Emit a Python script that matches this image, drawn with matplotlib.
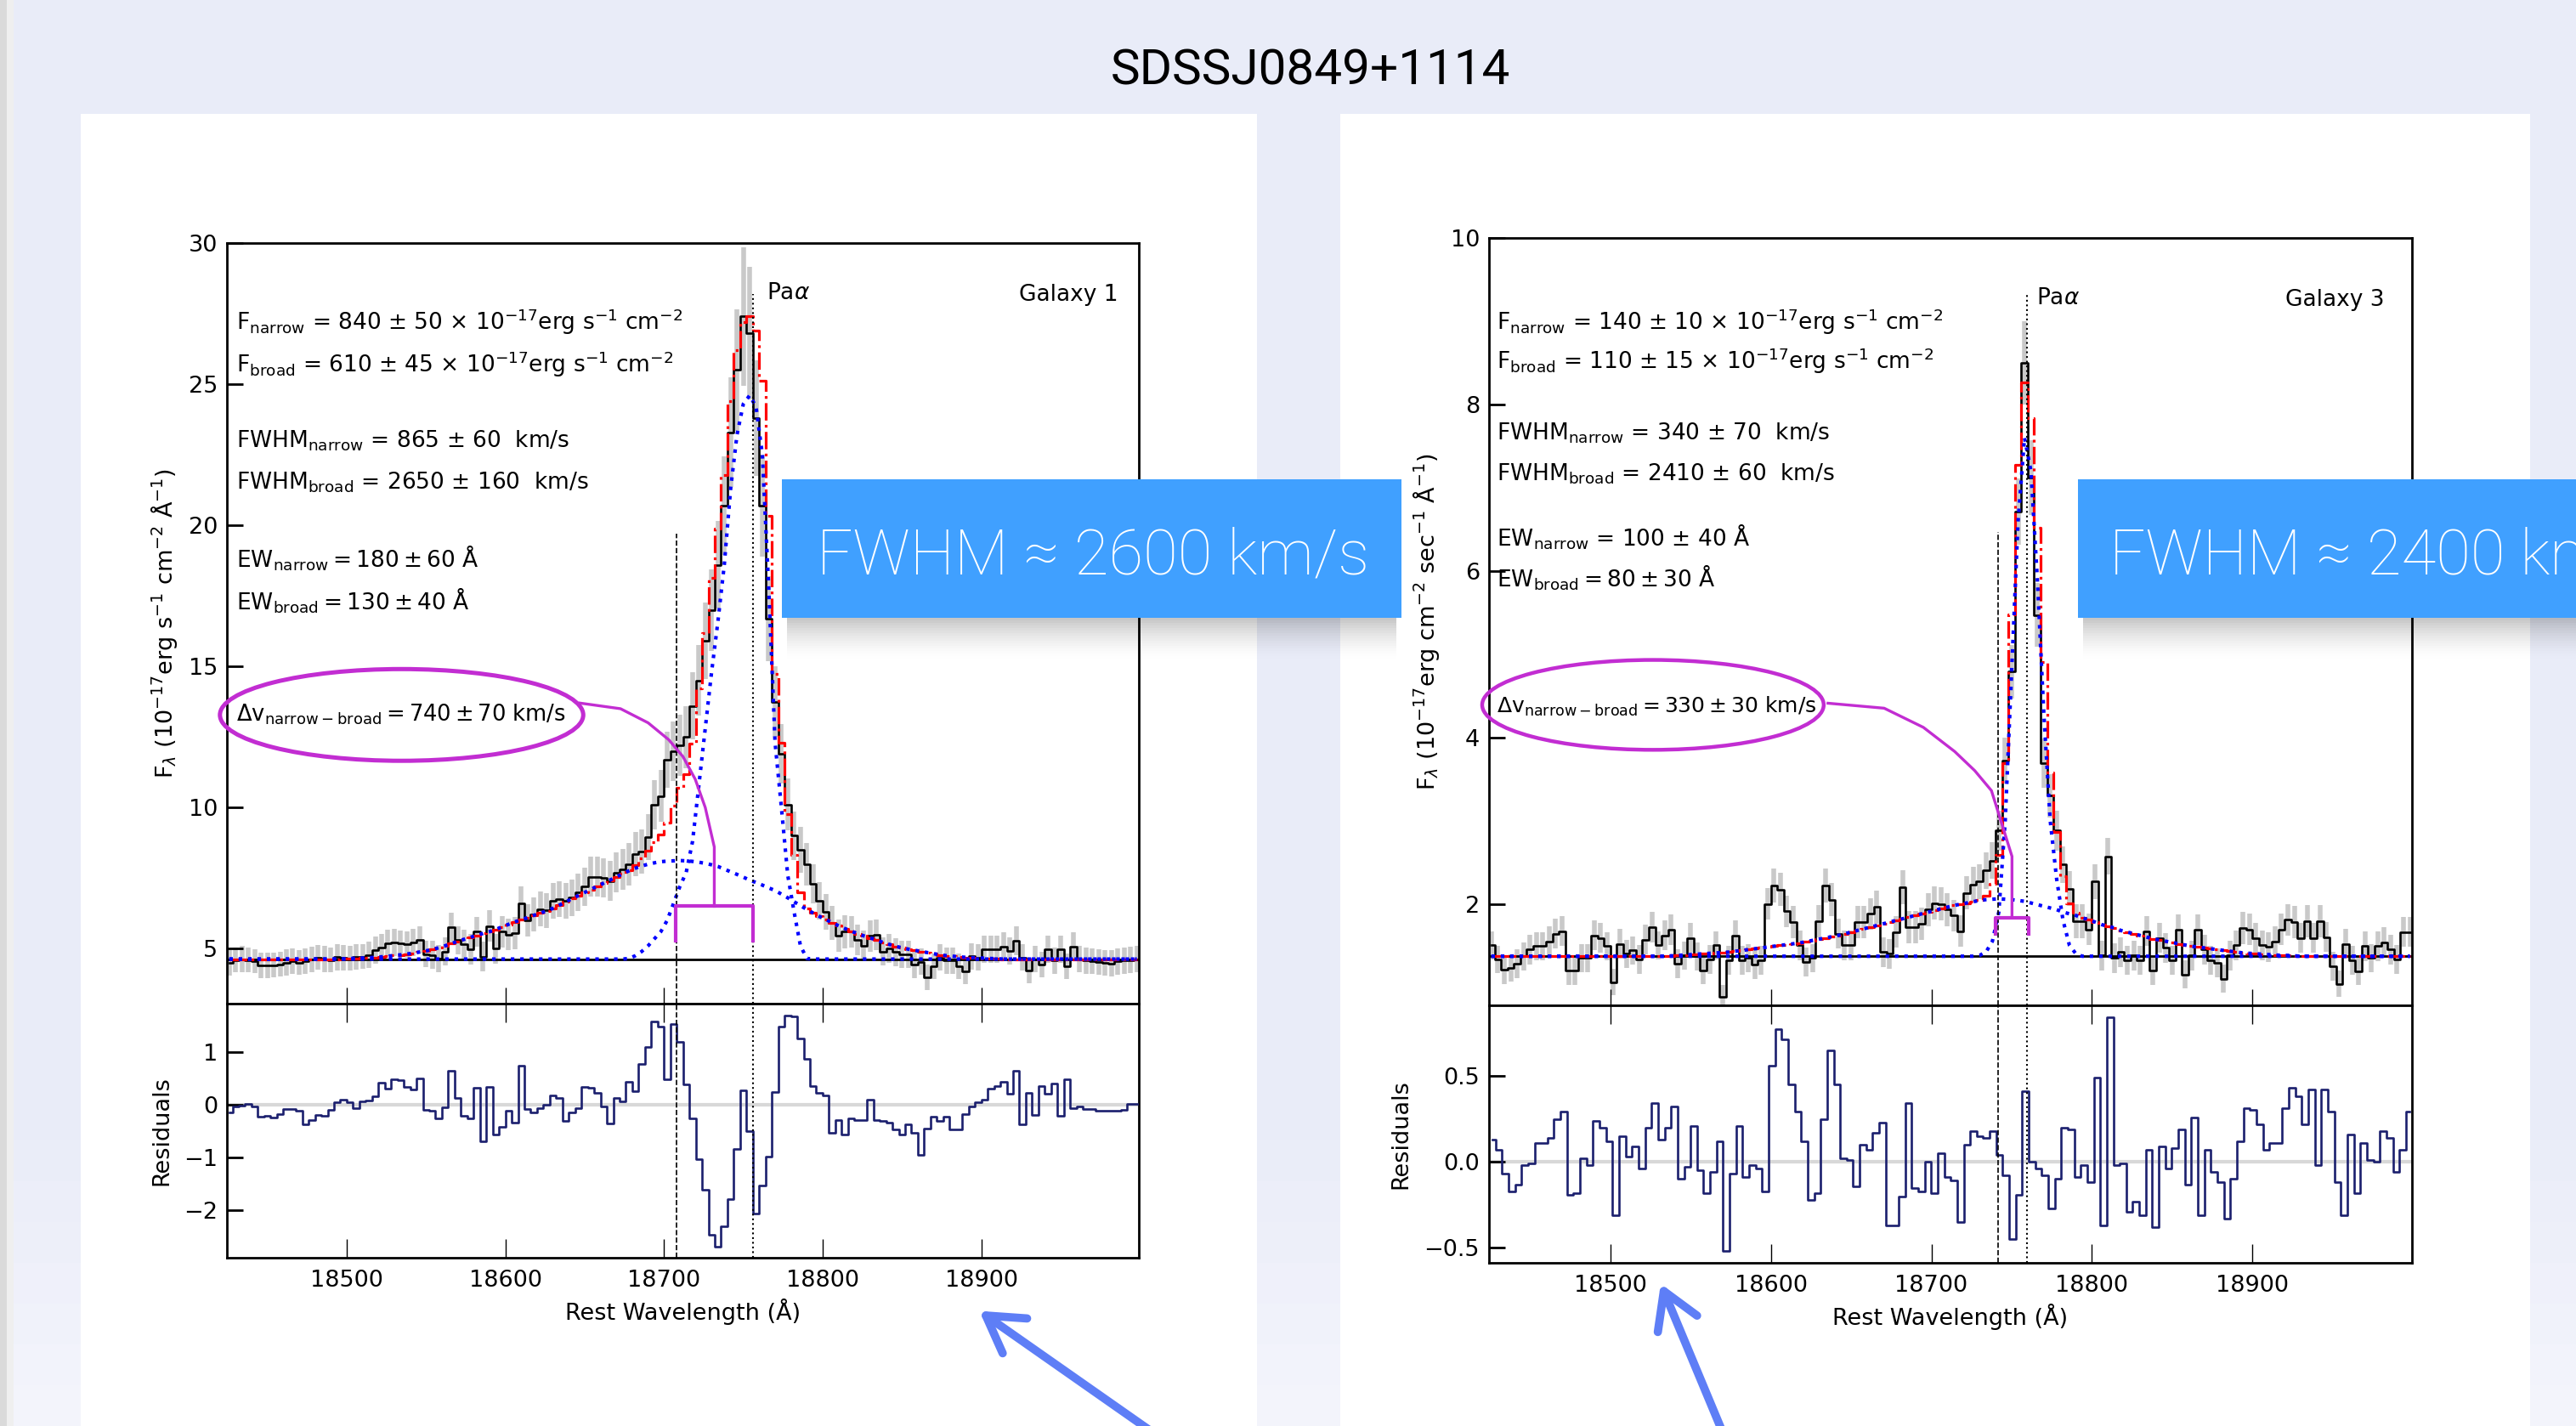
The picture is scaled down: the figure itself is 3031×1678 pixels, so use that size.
import numpy as np
import matplotlib
matplotlib.use("Agg")
import matplotlib.pyplot as plt
from matplotlib.patches import Ellipse, Rectangle, FancyArrowPatch

plt.rcParams.update({
    "font.family": "DejaVu Sans",
    "mathtext.fontset": "dejavusans",
    "axes.unicode_minus": True,
})

# ---------------- data ----------------
# wavelength grid (bin centres, Angstrom)
lam_start = 18426.0
lam_step = 4.0
n_bins = 144
# the Galaxy 3 residual trace is binned slightly differently
res3_start = 18426.5
res3_step = 4.05

# Galaxy 1
flux_g1 = [4.5, 4.6, 4.63, 4.6, 4.55, 4.4, 4.4, 4.42, 4.45, 4.5,
           4.55, 4.5, 4.55, 4.62, 4.68, 4.63, 4.6, 4.7, 4.68, 4.65,
           4.7, 4.72, 4.78, 4.95, 5.05, 5.2, 5.22, 5.18, 5.15, 5.22,
           5.3, 4.8, 4.78, 4.65, 4.9, 5.75, 5.3, 5.15, 4.98, 5.6,
           4.72, 5.8, 5.0, 5.6, 5.5, 5.55, 6.6, 6.0, 6.2, 6.4,
           6.35, 6.7, 6.75, 6.7, 6.8, 7.0, 7.2, 7.55, 7.55, 7.5,
           7.4, 7.7, 7.8, 8.0, 8.35, 8.45, 8.95, 10.1, 10.4, 11.7,
           12.0, 12.2, 12.5, 13.6, 14.5, 15.9, 17.0, 18.6, 20.7, 23.3,
           25.5, 27.4, 26.8, 23.8, 20.7, 16.7, 13.75, 11.9, 10.1, 9.0,
           8.5, 8.0, 7.3, 6.7, 6.3, 5.9, 5.45, 5.6, 5.6, 5.3,
           5.1, 5.45, 5.5, 4.9, 5.0, 4.88, 4.8, 4.8, 4.43, 4.53,
           3.98, 4.38, 4.68, 4.58, 4.58, 4.38, 4.18, 4.73, 4.68, 4.98,
           4.98, 4.98, 5.08, 4.93, 5.28, 4.68, 4.23, 4.63, 4.43, 4.98,
           4.58, 4.98, 4.38, 5.08, 4.63, 4.58, 4.55, 4.53, 4.5, 4.48,
           4.55, 4.58, 4.6, 4.63]
err_g1 = [0.45, 0.44, 0.46, 0.45, 0.43, 0.45, 0.46, 0.44, 0.45, 0.47,
          0.45, 0.44, 0.46, 0.45, 0.44, 0.46, 0.45, 0.47, 0.45, 0.44,
          0.46, 0.45, 0.47, 0.48, 0.46, 0.47, 0.48, 0.46, 0.47, 0.49,
          0.48, 0.47, 0.49, 0.48, 0.50, 0.52, 0.50, 0.51, 0.53, 0.52,
          0.54, 0.55, 0.53, 0.56, 0.55, 0.57, 0.60, 0.58, 0.60, 0.62,
          0.61, 0.63, 0.64, 0.63, 0.65, 0.66, 0.68, 0.70, 0.70, 0.69,
          0.70, 0.72, 0.73, 0.75, 0.77, 0.78, 0.82, 0.88, 0.92, 1.00,
          1.05, 1.08, 1.10, 1.18, 1.25, 1.35, 1.45, 1.55, 1.75, 1.95,
          2.15, 2.45, 2.35, 2.05, 1.80, 1.50, 1.25, 1.05, 0.92, 0.85,
          0.80, 0.75, 0.70, 0.66, 0.63, 0.60, 0.57, 0.58, 0.56, 0.54,
          0.53, 0.55, 0.54, 0.50, 0.51, 0.50, 0.49, 0.49, 0.47, 0.47,
          0.45, 0.46, 0.47, 0.47, 0.47, 0.46, 0.45, 0.47, 0.47, 0.48,
          0.48, 0.48, 0.49, 0.48, 0.50, 0.47, 0.45, 0.47, 0.46, 0.48,
          0.47, 0.48, 0.46, 0.49, 0.47, 0.47, 0.46, 0.46, 0.46, 0.46,
          0.47, 0.47, 0.47, 0.47]
cont_g1 = 4.63
narrow_g1 = [4.63] * 63 + [4.65, 4.75, 4.9, 5.1, 5.35, 5.6, 6.0, 6.6, 7.2, 7.7,
                           8.8, 10.8, 12.8, 14.8, 16.6, 18.6, 21.3, 23.2, 24.3, 24.6,
                           24.2, 22.5, 17.8, 12.3, 10.0, 7.6, 6.3, 5.1, 4.65] + [4.63] * 52
broad_g1 = [4.63] * 18 + [4.64, 4.65, 4.66, 4.67, 4.68, 4.69, 4.71, 4.73, 4.76, 4.78,
                          4.81, 4.84, 4.88, 4.92, 4.97, 5.03, 5.10, 5.18, 5.26, 5.33,
                          5.40, 5.47, 5.54, 5.60, 5.68, 5.77, 5.86, 5.95, 6.02, 6.10,
                          6.18, 6.26, 6.33, 6.43, 6.54, 6.65, 6.77, 6.88, 6.99, 7.10,
                          7.21, 7.32, 7.43, 7.54, 7.65, 7.76, 7.85, 7.93, 7.99, 8.04,
                          8.08, 8.10, 8.11, 8.12, 8.11, 8.09, 8.06, 8.02, 7.97, 7.91,
                          7.82, 7.72, 7.63, 7.53, 7.43, 7.34, 7.25, 7.15, 7.06, 6.93,
                          6.80, 6.66, 6.52, 6.39, 6.26, 6.14, 6.03, 5.92, 5.81, 5.71,
                          5.62, 5.53, 5.45, 5.38, 5.30, 5.22, 5.15, 5.08, 5.03, 4.98,
                          4.94, 4.90, 4.86, 4.82, 4.78, 4.75, 4.73, 4.71, 4.69, 4.68,
                          4.67, 4.66, 4.65, 4.64] + [4.63] * 22
resid_g1 = [-0.15, -0.04, -0.02, 0.02, -0.04, -0.23, -0.22, -0.25, -0.18, -0.09,
            -0.08, -0.11, -0.37, -0.30, -0.19, -0.22, -0.10, 0.04, 0.09, 0.04,
            -0.07, 0.06, 0.08, 0.16, 0.42, 0.31, 0.48, 0.47, 0.33, 0.29,
            0.50, -0.10, -0.12, -0.26, -0.05, 0.65, 0.12, -0.21, -0.26, 0.32,
            -0.69, 0.33, -0.57, -0.42, -0.12, -0.34, 0.74, -0.08, -0.14, -0.07,
            0.0, 0.17, 0.13, -0.31, -0.15, -0.06, 0.33, 0.32, 0.22, -0.03,
            -0.35, 0.12, 0.06, 0.44, 0.25, 0.77, 1.09, 1.58, 1.49, 0.49,
            1.53, 1.19, 0.38, -0.26, -1.04, -1.62, -2.48, -2.70, -2.31, -1.80,
            -0.84, 0.27, -0.51, -2.07, -1.53, -0.99, 0.24, 1.48, 1.70, 1.67,
            1.25, 0.87, 0.36, 0.23, 0.17, -0.53, -0.29, -0.56, -0.26, -0.29,
            -0.29, 0.09, -0.30, -0.31, -0.34, -0.47, -0.56, -0.37, -0.53, -0.96,
            -0.45, -0.23, -0.31, -0.23, -0.47, -0.47, -0.18, -0.04, 0.04, 0.09,
            0.31, 0.36, 0.44, 0.20, 0.64, -0.38, 0.23, -0.19, 0.35, 0.20,
            0.40, -0.21, 0.49, -0.07, -0.04, -0.08, -0.09, -0.11, -0.12, -0.12,
            -0.11, -0.10, 0.01, 0.01]

# Galaxy 3
flux_g3 = [1.50, 1.33, 1.21, 1.23, 1.28, 1.37, 1.45, 1.49, 1.49, 1.55,
           1.64, 1.67, 1.20, 1.20, 1.35, 1.35, 1.62, 1.59, 1.49, 1.06,
           1.52, 1.40, 1.44, 1.33, 1.57, 1.72, 1.50, 1.62, 1.69, 1.28,
           1.38, 1.59, 1.37, 1.20, 1.33, 1.50, 0.88, 1.32, 1.62, 1.32,
           1.35, 1.27, 1.32, 2.00, 2.22, 2.17, 1.91, 1.78, 1.50, 1.30,
           1.35, 1.79, 2.22, 2.05, 1.64, 1.50, 1.50, 1.78, 1.78, 1.88,
           1.96, 1.42, 1.40, 1.66, 2.20, 1.72, 1.72, 1.76, 1.93, 2.01,
           2.00, 1.93, 1.86, 1.67, 2.13, 2.23, 2.27, 2.40, 2.52, 2.88,
           3.72, 4.79, 6.71, 8.50, 7.12, 5.47, 3.69, 3.30, 2.88, 2.47,
           2.18, 1.79, 1.79, 1.69, 2.27, 1.38, 2.57, 1.35, 1.42, 1.32,
           1.38, 1.32, 1.67, 1.20, 1.59, 1.47, 1.32, 1.69, 1.15, 1.38,
           1.69, 1.45, 1.32, 1.29, 1.10, 1.38, 1.50, 1.71, 1.69, 1.59,
           1.50, 1.48, 1.55, 1.69, 1.81, 1.78, 1.59, 1.79, 1.59, 1.79,
           1.60, 1.25, 1.04, 1.52, 1.32, 1.19, 1.49, 1.35, 1.49, 1.54,
           1.45, 1.33, 1.66, 1.66]
err_g3 = [0.17, 0.16, 0.17, 0.16, 0.17, 0.17, 0.18, 0.17, 0.17, 0.18,
          0.18, 0.18, 0.17, 0.17, 0.17, 0.17, 0.18, 0.18, 0.17, 0.16,
          0.18, 0.17, 0.17, 0.17, 0.18, 0.18, 0.17, 0.18, 0.18, 0.17,
          0.17, 0.18, 0.17, 0.16, 0.17, 0.17, 0.15, 0.17, 0.18, 0.17,
          0.17, 0.17, 0.17, 0.19, 0.20, 0.20, 0.19, 0.19, 0.18, 0.17,
          0.17, 0.19, 0.20, 0.20, 0.18, 0.18, 0.18, 0.19, 0.19, 0.19,
          0.20, 0.18, 0.18, 0.19, 0.20, 0.19, 0.19, 0.19, 0.20, 0.20,
          0.20, 0.20, 0.19, 0.19, 0.20, 0.21, 0.21, 0.22, 0.22, 0.24,
          0.28, 0.32, 0.40, 0.50, 0.45, 0.38, 0.30, 0.26, 0.24, 0.22,
          0.21, 0.20, 0.20, 0.19, 0.21, 0.18, 0.22, 0.18, 0.18, 0.17,
          0.18, 0.17, 0.18, 0.17, 0.18, 0.18, 0.17, 0.18, 0.17, 0.18,
          0.18, 0.18, 0.17, 0.17, 0.17, 0.18, 0.18, 0.19, 0.19, 0.18,
          0.18, 0.18, 0.18, 0.19, 0.19, 0.19, 0.18, 0.19, 0.18, 0.19,
          0.18, 0.17, 0.16, 0.18, 0.17, 0.17, 0.18, 0.17, 0.18, 0.18,
          0.18, 0.17, 0.18, 0.18]
cont_g3 = 1.37
narrow_g3 = [1.37] * 76 + [1.38, 1.42, 1.55, 1.9, 3.0, 4.8, 6.6, 7.6, 7.2, 5.9,
                           4.3, 3.0, 2.3, 1.8, 1.5, 1.4] + [1.37] * 52
broad_g3 = [1.37] * 28 + [1.375, 1.38, 1.385, 1.39, 1.395, 1.40, 1.405, 1.41, 1.415, 1.42,
                          1.43, 1.44, 1.45, 1.46, 1.47, 1.48, 1.49, 1.50, 1.51, 1.52,
                          1.53, 1.545, 1.56, 1.575, 1.59, 1.605, 1.62, 1.64, 1.66, 1.68,
                          1.70, 1.72, 1.74, 1.76, 1.78, 1.80, 1.82, 1.84, 1.86, 1.88,
                          1.90, 1.92, 1.94, 1.96, 1.98, 1.995, 2.01, 2.025, 2.04, 2.05,
                          2.055, 2.06, 2.055, 2.05, 2.04, 2.03, 2.01, 1.99, 1.97, 1.95,
                          1.93, 1.90, 1.88, 1.86, 1.83, 1.81, 1.78, 1.75, 1.73, 1.71,
                          1.68, 1.66, 1.64, 1.62, 1.60, 1.58, 1.565, 1.55, 1.535, 1.52,
                          1.505, 1.49, 1.48, 1.47, 1.46, 1.45, 1.44, 1.43, 1.42, 1.41,
                          1.405, 1.40, 1.395, 1.39, 1.385, 1.38, 1.38, 1.375] + [1.37] * 18
resid_g3 = [0.13, 0.07, -0.07, -0.17, -0.13, -0.02, -0.01, 0.11, 0.11, 0.14,
            0.25, 0.29, -0.19, -0.18, 0.02, -0.02, 0.24, 0.20, 0.12, -0.31,
            0.15, 0.03, 0.09, -0.04, 0.20, 0.34, 0.13, 0.20, 0.32, -0.10,
            -0.03, 0.21, -0.05, -0.18, -0.06, 0.12, -0.52, -0.07, 0.21, -0.09,
            -0.02, -0.04, -0.17, 0.56, 0.77, 0.71, 0.45, 0.29, 0.12, -0.22,
            -0.18, 0.25, 0.65, 0.45, 0.02, 0.01, -0.14, 0.10, 0.07, 0.17,
            0.23, -0.37, -0.37, -0.20, 0.34, -0.15, -0.17, 0.0, -0.18, 0.05,
            -0.09, -0.11, -0.35, 0.10, 0.18, 0.15, 0.14, 0.18, 0.04, -0.08,
            -0.45, -0.19, 0.41, 0.0, -0.04, -0.08, -0.27, -0.10, 0.20, 0.19,
            -0.09, -0.02, -0.12, 0.49, -0.37, 0.84, -0.02, -0.01, -0.29, -0.23,
            -0.31, 0.07, -0.38, 0.09, -0.04, 0.08, 0.19, -0.13, 0.26, -0.31,
            0.07, -0.06, -0.12, -0.33, -0.10, 0.12, 0.31, 0.30, 0.22, 0.07,
            0.11, 0.11, 0.31, 0.43, 0.38, 0.22, 0.42, -0.02, 0.42, 0.29,
            -0.12, -0.31, 0.16, -0.18, 0.11, 0.01, 0.0, 0.18, 0.14, -0.06,
            0.07, 0.29]

# line centres (dashed = broad, dotted = narrow) and annotation text
lines_g1 = (18708.0, 18756.0)
lines_g3 = (18741.5, 18759.5)
labels_g1 = [r"F$_{\rm narrow}$ = 840 ± 50 × 10$^{-17}$erg s$^{-1}$ cm$^{-2}$",
             r"F$_{\rm broad}$ = 610 ± 45 × 10$^{-17}$erg s$^{-1}$ cm$^{-2}$",
             r"FWHM$_{\rm narrow}$ = 865 ± 60  km/s",
             r"FWHM$_{\rm broad}$ = 2650 ± 160  km/s",
             r"EW$_{\rm narrow}$$=180\pm60$ Å",
             r"EW$_{\rm broad}$$=130\pm40$ Å"]
labels_g3 = [r"F$_{\rm narrow}$ = 140 ± 10 × 10$^{-17}$erg s$^{-1}$ cm$^{-2}$",
             r"F$_{\rm broad}$ = 110 ± 15 × 10$^{-17}$erg s$^{-1}$ cm$^{-2}$",
             r"FWHM$_{\rm narrow}$ = 340 ± 70  km/s",
             r"FWHM$_{\rm broad}$ = 2410 ± 60  km/s",
             r"EW$_{\rm narrow}$ = 100 ± 40 Å",
             r"EW$_{\rm broad}$$=80\pm30$ Å"]
label_y_g1 = [26.93, 25.43, 22.77, 21.27, 18.5, 17.0]
label_y_g3 = [8.9, 8.43, 7.58, 7.08, 6.30, 5.81]
dv_g1 = r"$\Delta$v$_{\rm narrow-broad}$$=740\pm70$ km/s"
dv_g3 = r"$\Delta$v$_{\rm narrow-broad}$$=330\pm30$ km/s"

wave = lam_start + lam_step * np.arange(n_bins)
wave_res3 = res3_start + res3_step * np.arange(len(resid_g3))

MAGENTA = "#C22DD2"
NAVY = "#1B1F6E"
W, H = 3031, 1678


def fig_box(x0, y0, x1, y1):
    # pixel box (top-left origin) -> figure fraction [left, bottom, width, height]
    return [x0 / W, 1 - y1 / H, (x1 - x0) / W, (y1 - y0) / H]


def draw_galaxy(ax, rax, flux, err, narrow, broad, cont, rwave, resid, vlines,
                vtops, ylim, rlim, yticks, rticks, rticklabels):
    flux = np.array(flux)
    err = np.array(err)
    total = np.array(narrow) + np.array(broad) - cont
    ax.vlines(wave, flux - err, flux + err, color="#C9C9C9", lw=4, zorder=1)
    ax.axhline(cont, color="black", lw=2, zorder=2)
    ax.plot(wave, flux, drawstyle="steps-mid", color="black", lw=1.9, zorder=3)
    ax.plot(wave, total, drawstyle="steps-mid", color="red", ls="-.", lw=2.3, zorder=4)
    ax.plot(wave, narrow, color="blue", ls=":", lw=3, zorder=5)
    ax.plot(wave, broad, color="blue", ls=":", lw=3, zorder=5)
    ax.plot([vlines[0]] * 2, [ylim[0], vtops[0]], color="black", ls="--", lw=1.2, zorder=6)
    ax.plot([vlines[1]] * 2, [ylim[0], vtops[1]], color="black", ls=":", lw=1.5, zorder=6)
    ax.set_xlim(18424.5, 18999.3)
    ax.set_ylim(*ylim)
    ax.set_yticks(yticks)
    ax.tick_params(axis="x", direction="in", length=14, width=1, bottom=True, top=False,
                   labelbottom=False)
    ax.tick_params(axis="y", direction="in", length=14, width=2, labelsize=19.5, pad=8)

    rax.axhline(0, color="#D8D8D8", lw=3, zorder=1)
    rax.plot(rwave, resid, drawstyle="steps-mid", color=NAVY, lw=1.9, zorder=3)
    rax.axvline(vlines[0], color="black", ls="--", lw=1.2, zorder=4)
    rax.axvline(vlines[1], color="black", ls=":", lw=1.5, zorder=4)
    rax.set_xlim(18424.5, 18999.3)
    rax.set_ylim(*rlim)
    rax.set_yticks(rticks)
    rax.set_yticklabels(rticklabels)
    rax.set_xticks([18500, 18600, 18700, 18800, 18900])
    rax.tick_params(axis="x", direction="in", length=16, width=1, top=True, bottom=True,
                    labelsize=19.5, pad=10)
    rax.tick_params(axis="y", direction="in", length=14, width=2, labelsize=19.5, pad=8)
    rax.set_xlabel("Rest Wavelength (Å)", fontsize=19.5, va="center")
    rax.xaxis.set_label_coords(0.5, -0.211)
    for a in (ax, rax):
        for s in a.spines.values():
            s.set_linewidth(2)


fig = plt.figure(figsize=(W / 100, H / 100), dpi=100)
fig.patch.set_facecolor("#E9ECF8")

# slide background pieces: lighter towards the bottom, page edge on the left
bottom_shades = ["#EAEDF8", "#ECEEF9", "#EDEFF9", "#EFF0FA", "#F0F2FA", "#F2F3FB", "#F3F4FB"]
for i, c in enumerate(bottom_shades):
    top = 0.2 - i * 0.2 / len(bottom_shades)
    fig.add_artist(Rectangle((0, 0), 1, top, transform=fig.transFigure,
                             facecolor=c, edgecolor="none", zorder=-10 + i * 0.01))
fig.add_artist(Rectangle((0, 0), 8 / W, 1, transform=fig.transFigure,
                         facecolor="#DADADA", edgecolor="none", zorder=-9))
fig.add_artist(Rectangle((8 / W, 0), 8 / W, 1, transform=fig.transFigure,
                         facecolor="#EFEFEF", edgecolor="none", zorder=-9))
for box in (fig_box(95, 134, 1479, H), fig_box(1577, 134, 2977, H)):
    fig.add_artist(Rectangle((box[0], box[1]), box[2], box[3], transform=fig.transFigure,
                             facecolor="white", edgecolor="none", zorder=-8))

fig.text(1542 / W, 1 - 100 / H, "SDSSJ0849+1114", ha="center", va="baseline",
         fontsize=42, family="Roboto", weight="normal", color="black")

# Galaxy 1 panel
ax1 = fig.add_axes(fig_box(267, 286, 1340, 1181))
rax1 = fig.add_axes(fig_box(267, 1181, 1340, 1480))
draw_galaxy(ax1, rax1, flux_g1, err_g1, narrow_g1, broad_g1, cont_g1, wave, resid_g1,
            lines_g1, (19.7, 28.2), (3.05, 30), (-2.91, 1.92),
            [5, 10, 15, 20, 25, 30], [-2, -1, 0, 1], ["−2", "−1", "0", "1"])
ax1.set_ylabel(r"F$_\lambda$ (10$^{-17}$erg s$^{-1}$ cm$^{-2}$ Å$^{-1}$)", fontsize=19.5,
               va="center")
ax1.yaxis.set_label_coords(-0.069, 0.5)
rax1.set_ylabel("Residuals", fontsize=19.5, va="center")
rax1.yaxis.set_label_coords(-0.071, 0.5)
for txt, yv in zip(labels_g1, label_y_g1):
    ax1.text(18430.5, yv, txt, fontsize=19, va="baseline")
ax1.text(18430.5, 13.07, dv_g1, fontsize=18.5, va="baseline")
ax1.text(18764.6, 28.0, r"Pa$\alpha$", fontsize=19, va="baseline")
ax1.text(18986, 27.96, "Galaxy 1", fontsize=19, va="baseline", ha="right")

# Galaxy 3 panel
ax3 = fig.add_axes(fig_box(1752, 280, 2838, 1183))
rax3 = fig.add_axes(fig_box(1752, 1183, 2838, 1486))
draw_galaxy(ax3, rax3, flux_g3, err_g3, narrow_g3, broad_g3, cont_g3, wave_res3, resid_g3,
            lines_g3, (6.47, 9.32), (0.78, 10), (-0.587, 0.91),
            [2, 4, 6, 8, 10], [-0.5, 0.0, 0.5], ["−0.5", "0.0", "0.5"])
ax3.set_ylabel(r"F$_\lambda$ (10$^{-17}$erg cm$^{-2}$ sec$^{-1}$ Å$^{-1}$)", fontsize=19.5,
               va="center")
ax3.yaxis.set_label_coords(-0.068, 0.5)
rax3.set_ylabel("Residuals", fontsize=19.5, va="center")
rax3.yaxis.set_label_coords(-0.095, 0.5)
for txt, yv in zip(labels_g3, label_y_g3):
    ax3.text(18429, yv, txt, fontsize=19, va="baseline")
ax3.text(18429.3, 4.29, dv_g3, fontsize=18, va="baseline")
ax3.text(18765.3, 9.2, r"Pa$\alpha$", fontsize=19, va="baseline")
ax3.text(18982, 9.18, "Galaxy 3", fontsize=19, va="baseline", ha="right")

# velocity-offset callouts (ellipse, connector and bracket)
ax1.add_patch(Ellipse((18534.6, 13.28), 229, 3.25, fill=False, ec=MAGENTA, lw=3.6,
                      clip_on=False, zorder=8))
ax1.plot([18647, 18672.6, 18690, 18703, 18712, 18719.7, 18726, 18731.7, 18731.7],
         [13.7, 13.5, 13.0, 12.4, 11.8, 11.0, 10.0, 8.6, 6.5],
         color=MAGENTA, lw=2.4, zorder=8, clip_on=False)
ax1.plot([18707.5, 18707.5, 18756.3, 18756.3], [5.27, 6.5, 6.5, 5.27],
         color=MAGENTA, lw=3, zorder=8)
ax3.add_patch(Ellipse((18526.6, 4.39), 212.7, 1.08, fill=False, ec=MAGENTA, lw=3.2,
                      clip_on=False, zorder=8))
ax3.plot([18635.6, 18670.6, 18695, 18714.5, 18727, 18737.4, 18750.2, 18750.2],
         [4.41, 4.35, 4.12, 3.83, 3.6, 3.36, 2.57, 1.83],
         color=MAGENTA, lw=2.4, zorder=8, clip_on=False)
ax3.plot([18740, 18740, 18760.5, 18760.5], [1.64, 1.83, 1.83, 1.64],
         color=MAGENTA, lw=3, zorder=8)

# blue FWHM call-out boxes with soft shadow
for x0, x1, label, tx in ((920, 1649, "FWHM ≈ 2600 km/s", 961),
                          (2445, 3100, "FWHM ≈ 2400 km/s", 2482)):
    for i in range(16):
        b = fig_box(x0 + 6, 727 + i * 3, x1 - 6, 727 + (i + 1) * 3)
        fig.add_artist(Rectangle((b[0], b[1]), b[2], b[3], transform=fig.transFigure,
                                 facecolor="black", edgecolor="none",
                                 alpha=0.22 * (1 - i / 16) ** 1.6, zorder=19))
    b = fig_box(x0, 564, x1, 727)
    fig.add_artist(Rectangle((b[0], b[1]), b[2], b[3], transform=fig.transFigure,
                             facecolor="#40A0FF", edgecolor="none", zorder=20))
    fig.text(tx / W, 1 - 676 / H, label, fontsize=53.5, color="white", va="baseline",
             family="Roboto", weight="light", zorder=21)

# pointing arrows at the bottom
for tail, head in (((1377, 1700), (1150, 1541)), ((2033, 1700), (1953, 1508))):
    fig.add_artist(FancyArrowPatch((tail[0] / W, 1 - tail[1] / H), (head[0] / W, 1 - head[1] / H),
                                   transform=fig.transFigure, arrowstyle="->,head_length=0.5,head_width=0.3",
                                   mutation_scale=60, lw=7, color="#5E7EF6", zorder=22))

fig.savefig("out.png", dpi=100, facecolor=fig.get_facecolor())
